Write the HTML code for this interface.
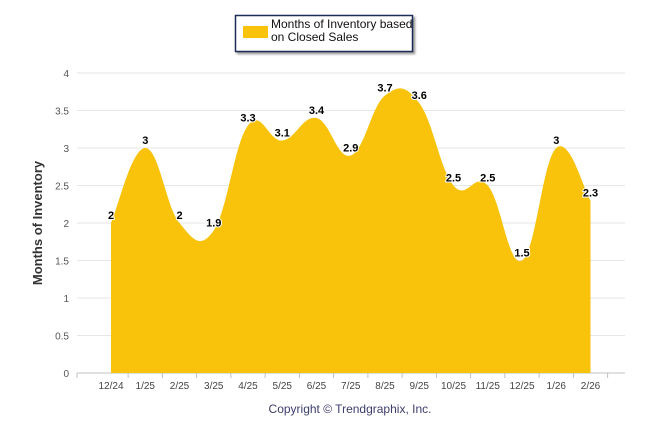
<!DOCTYPE html>
<html><head><meta charset="utf-8"><style>
body{margin:0;background:#fff;font-family:"Liberation Sans",Arial,sans-serif}
svg text{font-family:"Liberation Sans",Arial,sans-serif}
</style></head><body>
<svg id="c" width="646" height="434">
<rect x="0" y="0" width="646" height="434" fill="#fff"/>
<g>
<rect x="235.5" y="15.5" width="177" height="36" fill="#fff" stroke="#1d2c58" stroke-width="1.5" style="filter:drop-shadow(2px 2px 1px #999)"/>
<rect x="243" y="26" width="25" height="12" fill="#f8c30a"/>
<text x="271" y="28" font-size="12" fill="#111">Months of Inventory based</text>
<text x="271" y="41" font-size="12" fill="#111">on Closed Sales</text>
</g>
<text transform="translate(42,223) rotate(-90)" text-anchor="middle" font-size="13" font-weight="bold" fill="#333">Months of Inventory</text>
<text x="350" y="413" text-anchor="middle" font-size="12" fill="#3d3d6b">Copyright © Trendgraphix, Inc.</text>
<g id="grid"></g><g id="area"></g><g id="labels"></g>
</svg>
<script>
const categories=["12/24","1/25","2/25","3/25","4/25","5/25","6/25","7/25","8/25","9/25","10/25","11/25","12/25","1/26","2/26"];
const values=[2,3,2,1.9,3.3,3.1,3.4,2.9,3.7,3.6,2.5,2.5,1.5,3,2.3];
const yTicks=[0,0.5,1,1.5,2,2.5,3,3.5,4];
const NS="http://www.w3.org/2000/svg";
const L=77,R=625,T=73,B=373;
const step=(590.5-111)/(categories.length-1);
const x=i=>111+i*step;
const y=v=>B-(v/4)*(B-T);
function mk(t,a,p){const e=document.createElementNS(NS,t);for(const k in a)e.setAttribute(k,a[k]);(p||document.getElementById('c')).appendChild(e);return e;}
const grid=document.getElementById('grid');
yTicks.forEach(v=>{
 const l=mk('line',{x1:L,x2:R,y1:y(v),y2:y(v),stroke:v===0?'#c0c0c0':'#e6e6e6'},grid);
 
 
 const t=mk('text',{x:69,y:y(v)+4,'text-anchor':'end','font-size':'10',fill:'#555'},grid);
 t.textContent=v;
 
 
});
for(let i=0;i<=categories.length;i++){
 const tx=i===0?L:x(i-1)+step/2;
 mk('line',{x1:tx,x2:tx,y1:B,y2:B+5,stroke:'#c0c0c0'},grid);
}
categories.forEach((c,i)=>{
 const t=mk('text',{x:x(i),y:B+16,'text-anchor':'middle','font-size':'10',fill:'#444'},grid);
 t.textContent=c;
 
 
});
const pts=values.map((v,i)=>[x(i),y(v)]);
let d=`M${pts[0][0]},${pts[0][1]}`;
const k=1/5;
for(let i=0;i<pts.length-1;i++){
 const p0=pts[Math.max(0,i-1)],p1=pts[i],p2=pts[i+1],p3=pts[Math.min(pts.length-1,i+2)];
 const c1=[p1[0]+(p2[0]-p0[0])*k,p1[1]+(p2[1]-p0[1])*k];
 const c2=[p2[0]-(p3[0]-p1[0])*k,p2[1]-(p3[1]-p1[1])*k];
 d+=` C${c1[0]},${c1[1]} ${c2[0]},${c2[1]} ${p2[0]},${p2[1]}`;
}
d+=` L${pts[pts.length-1][0]},${B} L${pts[0][0]},${B} Z`;
const area=mk('path',{d:d,fill:'#f8c30a'},document.getElementById('area'));


const lg=document.getElementById('labels');
values.forEach((v,i)=>{
 const t=mk('text',{x:x(i),y:y(v)-4,'text-anchor':'middle','font-size':'11','font-weight':'bold',fill:'#000',stroke:'#fff','stroke-width':'2','paint-order':'stroke'},lg);
 t.textContent=v;
 
 
});
</script>
</body></html>
